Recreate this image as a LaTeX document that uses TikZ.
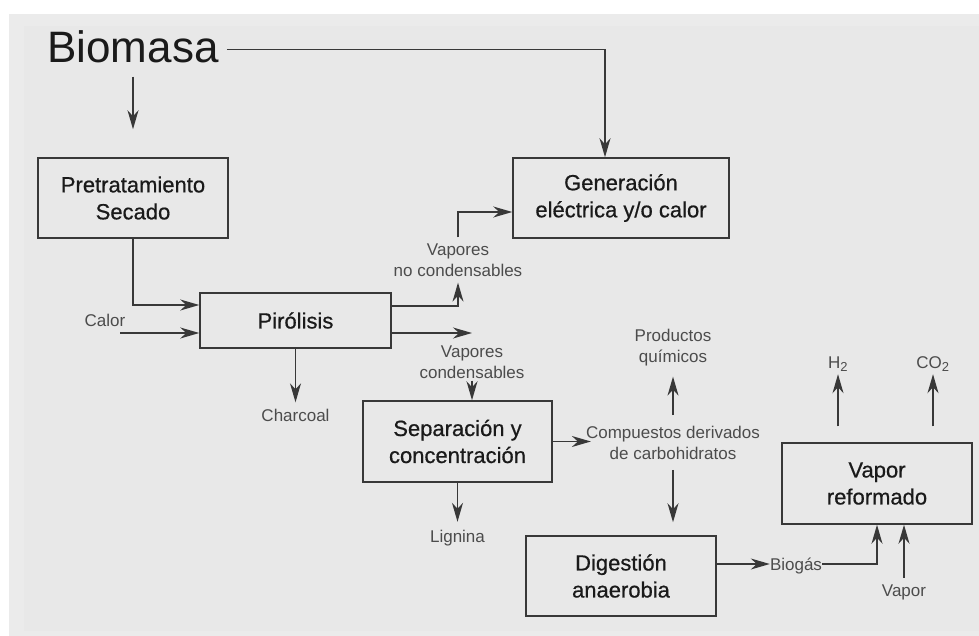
\documentclass[tikz,border=0pt]{standalone}
\usepackage{fontspec}
\setmainfont{Liberation Sans}
\newfontfamily\boxfont[FakeBold=0.6]{Liberation Sans}
\usetikzlibrary{arrows.meta}
\definecolor{paper}{HTML}{EBEBEB}
\definecolor{paperin}{HTML}{E8E8E8}
\definecolor{linec}{HTML}{383838}
\definecolor{boxtext}{HTML}{1A1A1A}
\definecolor{lbltext}{HTML}{4C4C4C}
\begin{document}
\begin{tikzpicture}[x=1pt,y=-1pt,
  line/.style={draw=linec, line width=1.4pt},
  arr/.style={line, -{Stealth[length=19pt,width=11pt,inset=6pt]}},
  box/.style={draw=linec, line width=1.5pt, inner sep=0pt, align=center,
    text=boxtext, font=\boxfont\fontsize{22}{27}\selectfont},
  lbl/.style={inner sep=0pt, align=center, text=lbltext,
    font=\fontsize{17}{21}\selectfont},
  one/.style={lbl, text height=12pt, text depth=0pt},
]
\useasboundingbox (0,0) rectangle (979,636);
% background sheet
\fill[paper] (9,14) rectangle (979,636);
\fill[paperin] (24,26) rectangle (979,631);

% title
\node[inner sep=0pt, anchor=base, text=boxtext, font=\fontsize{44}{50}\selectfont]
  (bio) at (133,63) {Biomasa};

% process boxes
\node[box, minimum width=190pt, minimum height=80pt] (pret) at (133,198)
  {Pretratamiento\\Secado};
\node[box, minimum width=216pt, minimum height=80pt] (gen) at (621,198)
  {Generación\\eléctrica y/o calor};
\node[box, minimum width=191pt, minimum height=55pt] (pir) at (295.5,320.5)
  {Pirólisis};
\node[box, minimum width=189pt, minimum height=81pt] (sep) at (457.5,441.5)
  {Separación y\\concentración};
\node[box, minimum width=190pt, minimum height=80pt] (dig) at (621,576)
  {Digestión\\anaerobia};
\node[box, minimum width=190pt, minimum height=81pt] (vap) at (877,483.5)
  {Vapor\\reformado};

% stream labels
\node[one] (calor) at (105,320.5) {Calor};
\node[lbl] (vnc) at (458,260) {Vapores\\no condensables};
\node[lbl] (vc) at (472,362) {Vapores\\condensables};
\node[one] (charcoal) at (295.5,415.5) {Charcoal};
\node[one] (lignina) at (457.5,536) {Lignina};
\node[lbl] (prod) at (673,348) {Productos\\químicos};
\node[lbl] (comp) at (673,443) {Compuestos derivados\\de carbohidratos};
\node[one] (biogas) at (796,564) {Biogás};
\node[one] (vapor) at (904,590) {Vapor};
\node[one] (h2) at (838,362) {H\textsubscript{\fontsize{13}{13}\selectfont 2}};
\node[one] (co2) at (933,362) {CO\textsubscript{\fontsize{13}{13}\selectfont 2}};

% free ends
\coordinate (calorin) at (120,333);
\coordinate (vctip) at (472,333);

% connectors
\draw[arr, shorten <=8pt] ([yshift=-2pt]bio.east) -| ([xshift=-16pt]gen.north);
\draw[arr, shorten <=13pt, shorten >=28pt] (bio.south) -- (pret.north);
\draw[arr] (pret.south) |- ([yshift=15.5pt]pir.west);
\draw[arr] (calorin) -- (calorin -| pir.west);
\draw[arr, shorten >=6pt] ([yshift=14.5pt]pir.east) -| (vnc.south);
\draw[arr, shorten <=6pt] (vnc.north) |- ([yshift=-14pt]gen.west);
\draw[arr] ([yshift=-12.5pt]pir.east) -- (vctip);
\draw[arr, shorten <=2pt] (vc.south) -- (vc.south |- sep.north);
\draw[arr, shorten >=7pt] (pir.south) -- (charcoal.north);
\draw[arr, shorten >=8pt] (sep.south) -- (lignina.north);
\draw[arr, shorten >=-5pt] (sep.east) -- (sep.east -| comp.west);
\draw[arr, shorten <=11pt, shorten >=10pt] (comp.north) -- (prod.south);
\draw[arr, shorten <=10pt, shorten >=13pt] (comp.south) -- (comp.south |- dig.north);
\draw[arr] ([yshift=12pt]dig.east) -- (biogas.west);
\draw[arr] (biogas.east) -| (vap.south);
\draw[arr, shorten <=6pt] (vapor.north) -- (vapor.north |- vap.south);
\draw[arr, shorten <=16pt, shorten >=6pt] (h2.south |- vap.north) -- (h2.south);
\draw[arr, shorten <=16pt, shorten >=6pt] (co2.south |- vap.north) -- (co2.south);
\end{tikzpicture}
\end{document}
